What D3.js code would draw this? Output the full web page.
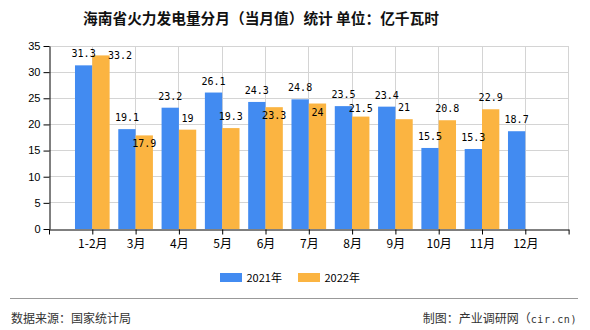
<!DOCTYPE html>
<html><head><meta charset="utf-8">
<script src="https://cdn.jsdelivr.net/npm/d3@7"></script>
<style>
html,body{margin:0;padding:0;background:#fff;}
svg{display:block;}
</style></head>
<body><svg id="chart" width="590" height="330"></svg>
<script>
const categories = ["1-2月","3月","4月","5月","6月","7月","8月","9月","10月","11月","12月"];
const seriesNames = ["2021年","2022年"];
const values2021 = [31.3,19.1,23.2,26.1,24.3,24.8,23.5,23.4,15.5,15.3,18.7];
const values2022 = [33.2,17.9,19,19.3,23.3,24,21.5,21,20.8,22.9,null];
const yTicks = [0,5,10,15,20,25,30,35];
const titleText = "海南省火力发电量分月（当月值）统计 单位：亿千瓦时";
const sourceText = "数据来源：国家统计局";
const creditCjk = "制图：产业调研网（";
const creditLatin = "cir.cn)";

// layout-only: label nudges (px) for overlapping value labels
const labelNudge2021 = values2021.map(() => [0,0]);
const labelNudge2022 = [[19,11.6],[0,19.6],[0,0],[0,0],[0,20],[0,20.5],[0,3],[0,0],[0,0],[0,0],[0,0]];

const colors = ["#428BF1","#FBB441"];
const svg = d3.select("#chart");
const L = 49, R = 568.6, T = 46, B = 229;
const x = d3.scaleLinear().domain([0, categories.length + 1]).range([L, R]);
const y = d3.scaleLinear().domain([0, 35]).range([B, T]);
const step = x(1) - x(0);
const bw = step * 0.4;
const px = v => Math.floor(v) + 0.5;

// grid
const grid = svg.append("g");
grid.selectAll("line.h").data(yTicks.filter(d => d > 0)).join("line")
  .attr("x1", L).attr("x2", R).attr("y1", d => px(y(d))).attr("y2", d => px(y(d)))
  .attr("stroke", "#d4d4d4").attr("stroke-width", 1);
grid.selectAll("line.v").data(d3.range(1, categories.length + 2)).join("line")
  .attr("x1", d => px(x(d))).attr("x2", d => px(x(d))).attr("y1", T).attr("y2", B)
  .attr("stroke", "#d4d4d4").attr("stroke-width", 1);

// bars
const series = [values2021, values2022];
const nudges = [labelNudge2021, labelNudge2022];
series.forEach((vals, si) => {
  const g = svg.append("g");
  const data = vals.map((v, i) => ({v, i})).filter(d => d.v != null);
  g.selectAll("rect").data(data).join("rect")
    .attr("x", d => x(d.i + 1) + (si === 0 ? -bw : 0))
    .attr("y", d => y(d.v))
    .attr("width", bw)
    .attr("height", d => y(0) - y(d.v))
    .attr("fill", colors[si]);
});

// axes
const yAxis = d3.axisLeft(y).tickValues(yTicks).tickSize(6).tickSizeOuter(0).tickPadding(3);
const ya = svg.append("g").attr("transform", `translate(${px(L)},0)`).call(yAxis);
ya.select(".domain").attr("stroke", "#000");
ya.selectAll(".tick line").attr("stroke", "#000");
ya.selectAll(".tick text").attr("font-family", "Liberation Sans, Arial, sans-serif")
  .attr("font-size", "11px").attr("fill", "#000").attr("dy", "0.3em");

const xAxis = d3.axisBottom(x).tickValues(d3.range(0, categories.length + 2))
  .tickFormat(k => categories[k - 1] || "").tickSize(5).tickSizeOuter(0).tickPadding(5);
const xa = svg.append("g").attr("transform", `translate(0,${px(B)})`).call(xAxis);
xa.select(".domain").attr("stroke", "#000");
xa.selectAll(".tick line").attr("stroke", "#000");
xa.selectAll(".tick text").attr("font-family", "Noto Sans CJK SC, sans-serif")
  .attr("font-size", "12px").attr("fill", "#000");

// value labels
series.forEach((vals, si) => {
  const data = vals.map((v, i) => ({v, i})).filter(d => d.v != null);
  svg.append("g").selectAll("text").data(data).join("text")
    .attr("x", d => x(d.i + 1) + (si === 0 ? -bw/2 : bw/2) + nudges[si][d.i][0])
    .attr("y", d => y(d.v) - 8 + nudges[si][d.i][1])
    .attr("text-anchor", "middle")
    .attr("font-family", "DejaVu Sans Mono, monospace")
    .attr("font-size", "10px").attr("fill", "#000")
    .text(d => String(d.v));
});

// title
svg.append("text").attr("x", 261).attr("y", 24).attr("text-anchor", "middle")
  .attr("font-family", "Noto Sans CJK SC, sans-serif").attr("font-size", "14.7px")
  .attr("font-weight", "bold").attr("fill", "#111").text(titleText);

// legend
const lg = svg.append("g");
const legendX = [220, 298];
seriesNames.forEach((n, i) => {
  lg.append("rect").attr("x", legendX[i]).attr("y", 273).attr("width", 22).attr("height", 9).attr("fill", colors[i]);
  lg.append("text").attr("x", legendX[i] + 26.5).attr("y", 281.5)
    .attr("font-family", "Noto Sans CJK SC, sans-serif").attr("font-size", "11px").attr("fill", "#000").text(n);
});

// footer
svg.append("line").attr("x1", 10).attr("x2", 578).attr("y1", 298.5).attr("y2", 298.5)
  .attr("stroke", "#999").attr("stroke-width", 1);
svg.append("text").attr("x", 11).attr("y", 323).attr("font-family", "Noto Sans CJK SC, sans-serif")
  .attr("font-size", "12px").attr("fill", "#333").text(sourceText);
const credit = svg.append("text").attr("x", 577).attr("y", 323).attr("text-anchor", "end")
  .attr("font-size", "12px").attr("fill", "#333");
credit.append("tspan").attr("font-family", "Noto Sans CJK SC, sans-serif").text(creditCjk);
credit.append("tspan").attr("font-family", "DejaVu Sans Mono, monospace").attr("font-size", "10px")
  .attr("letter-spacing", "0.6px").text(creditLatin);
</script></body></html>
